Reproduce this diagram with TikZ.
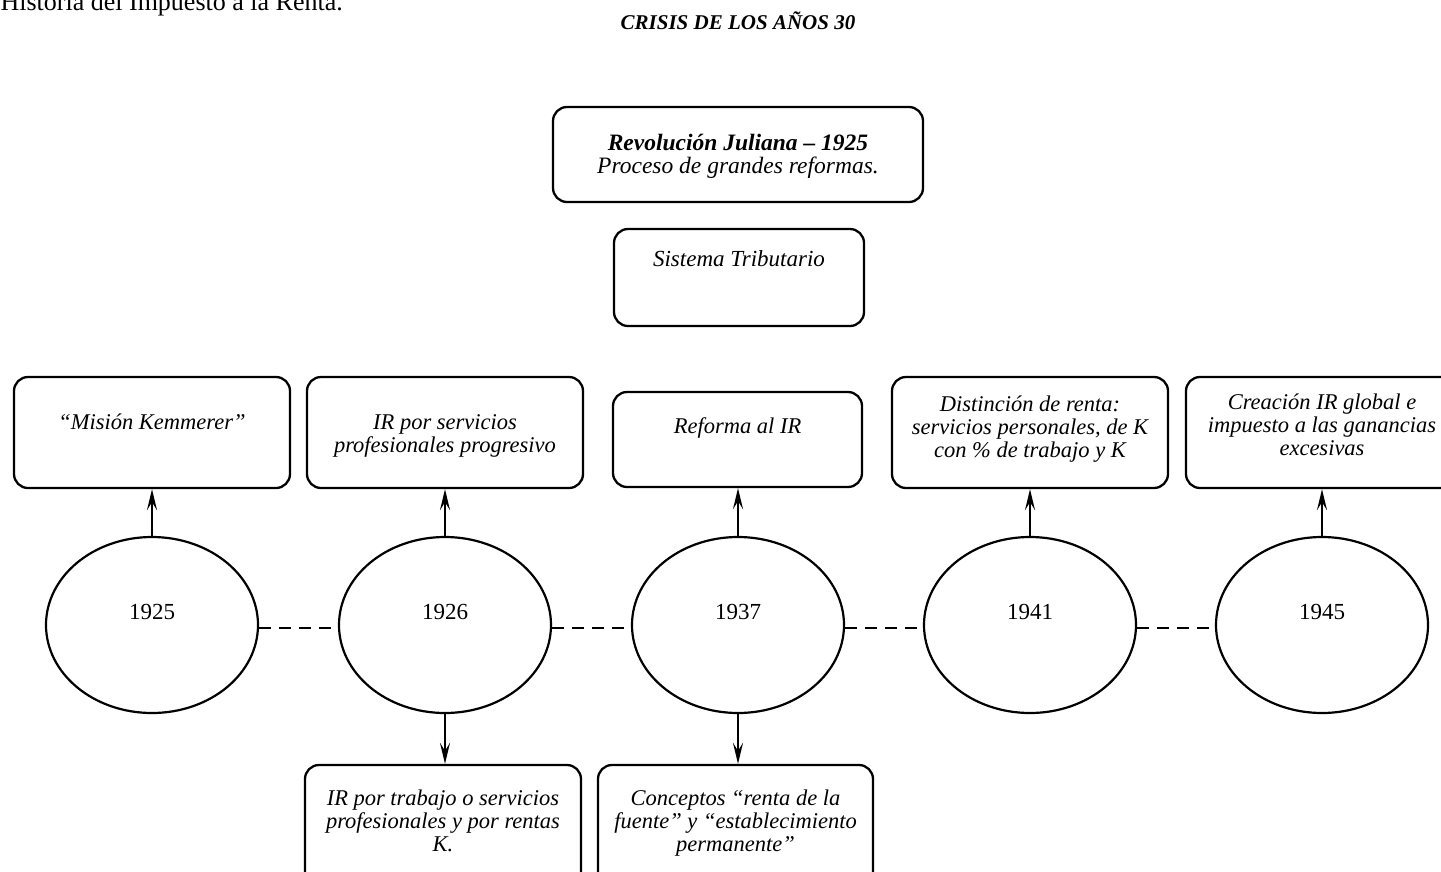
\documentclass[tikz,border=0pt]{standalone}
\usepackage{fontspec}
\setmainfont{Liberation Serif}
\usetikzlibrary{shapes.geometric,arrows.meta}
\newcommand\mlines[1]{\begin{tabular}[t]{@{}c@{}}#1\end{tabular}}
\tikzset{
  boxnode/.style={draw, line width=2.3pt, rounded corners=14pt, inner sep=0pt},
  boxtext/.style={font=\fontsize{22.5}{23.3}\selectfont\itshape, inner sep=0pt, anchor=base},
  yearnode/.style={draw, ellipse, line width=2.2pt, minimum width=212pt, minimum height=176pt, inner sep=0pt},
  yeartext/.style={font=\fontsize{23}{25}\selectfont, inner sep=0pt, anchor=base},
  uparrow/.style={line width=2.6pt, -{Stealth[length=21pt,width=10pt,inset=8pt]}},
  dashlink/.style={line width=2.2pt, dash pattern=on 12pt off 8pt},
}
\begin{document}
\begin{tikzpicture}[x=1pt,y=-1pt]
\useasboundingbox (0,0) rectangle (1441,871);
\clip (0,0) rectangle (1441,871);
\fill[white] (0,0) rectangle (1441,871);

% header texts
\node[font=\fontsize{26}{28}\selectfont, inner sep=0pt, anchor=base east] (hist) at (343,10) {Historia del Impuesto a la Renta.};
\node[font=\fontsize{21}{23}\selectfont\bfseries\itshape, inner sep=0pt, anchor=base] (crisis) at (738,29.5) {CRISIS DE LOS AÑOS 30};

% top boxes
\node[boxnode, minimum width=370pt, minimum height=95pt] (t1) at (738,154.5) {};
\node[boxtext, font=\fontsize{23.5}{23.5}\selectfont\itshape] (t1t) at (738,150) {\mlines{{\bfseries Revolución Juliana – 1925}\\Proceso de grandes reformas.}};
\node[boxnode, minimum width=250pt, minimum height=97pt] (t2) at (739,277.5) {};
\node[boxtext, font=\fontsize{23}{24}\selectfont\itshape] (t2t) at (739,266) {Sistema Tributario};

% upper row boxes
\node[boxnode, minimum width=276pt, minimum height=111pt] (b1) at (152,432.5) {};
\node[boxtext] (b1t) at (152,429) {“Misión Kemmerer”};
\node[boxnode, minimum width=276pt, minimum height=111pt] (b2) at (445,432.5) {};
\node[boxtext] (b2t) at (445,429) {\mlines{IR por servicios\\profesionales progresivo}};
\node[boxnode, minimum width=249pt, minimum height=95pt] (b3) at (737.5,439.5) {};
\node[boxtext] (b3t) at (737.5,433) {Reforma al IR};
\node[boxnode, minimum width=276pt, minimum height=111pt] (b4) at (1030,432.5) {};
\node[boxtext] (b4t) at (1030,411) {\mlines{Distinción de renta:\\servicios personales, de K\\con \% de trabajo y K}};
\node[boxnode, minimum width=272pt, minimum height=111pt] (b5) at (1322,432.5) {};
\node[boxtext] (b5t) at (1322,409) {\mlines{Creación IR global e\\impuesto a las ganancias\\excesivas}};

% ellipses
\node[yearnode] (e1) at (152,625) {};
\node[yearnode] (e2) at (445,625) {};
\node[yearnode] (e3) at (738,625) {};
\node[yearnode] (e4) at (1030,625) {};
\node[yearnode] (e5) at (1322,625) {};
\node[yeartext] (y1) at (152,619) {1925};
\node[yeartext] (y2) at (445,619) {1926};
\node[yeartext] (y3) at (738,619) {1937};
\node[yeartext] (y4) at (1030,619) {1941};
\node[yeartext] (y5) at (1322,619) {1945};

% bottom boxes
\node[boxnode, minimum width=276pt, minimum height=135pt] (c1) at (443,832.5) {};
\node[boxtext] (c1t) at (443,805) {\mlines{IR por trabajo o servicios\\profesionales y por rentas\\K.}};
\node[boxnode, minimum width=275pt, minimum height=135pt] (c2) at (735.5,832.5) {};
\node[boxtext] (c2t) at (735.5,805) {\mlines{Conceptos “renta de la\\fuente” y “establecimiento\\permanente”}};

% connectors
\draw[dashlink] ([yshift=-3pt]e1.east) -- ([yshift=-3pt]e2.west);
\draw[dashlink] ([yshift=-3pt]e2.east) -- ([yshift=-3pt]e3.west);
\draw[dashlink] ([yshift=-3pt]e3.east) -- ([yshift=-3pt]e4.west);
\draw[dashlink] ([yshift=-3pt]e4.east) -- ([yshift=-3pt]e5.west);

\draw[uparrow] (e1.north) -- (e1.north |- b1.south);
\draw[uparrow] (e2.north) -- (e2.north |- b2.south);
\draw[uparrow] (e3.north) -- (e3.north |- b3.south);
\draw[uparrow] (e4.north) -- (e4.north |- b4.south);
\draw[uparrow] (e5.north) -- (e5.north |- b5.south);
\draw[uparrow] (e2.south) -- (e2.south |- c1.north);
\draw[uparrow] (e3.south) -- (e3.south |- c2.north);
\end{tikzpicture}
\end{document}
